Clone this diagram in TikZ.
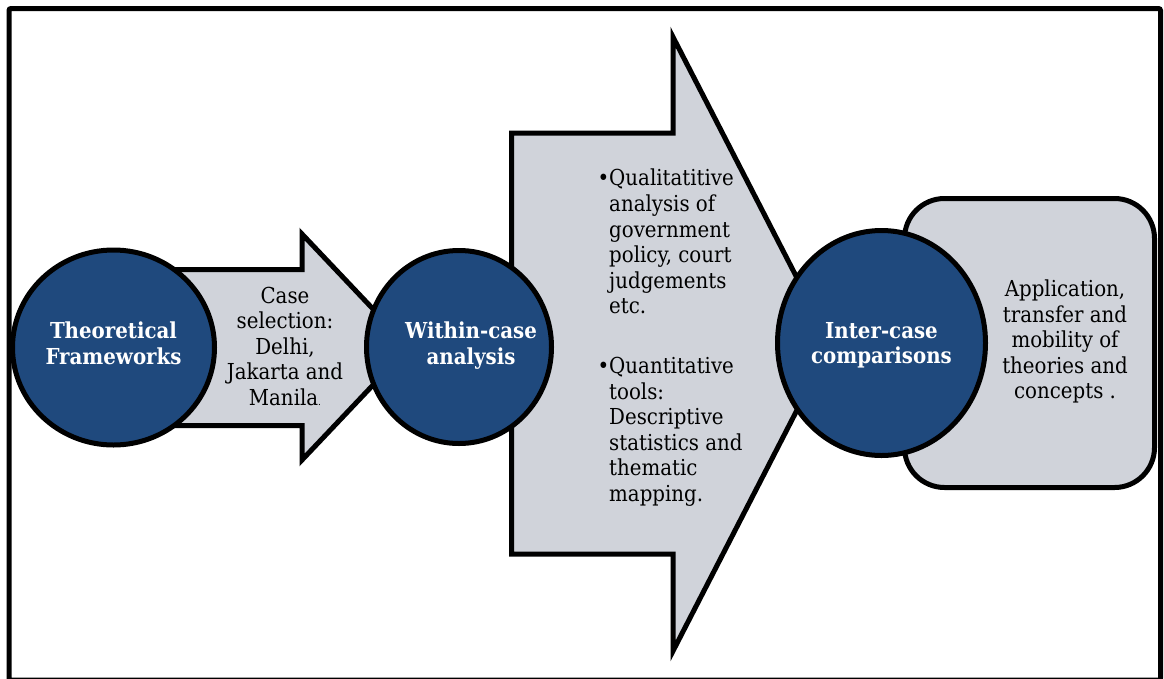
\documentclass[tikz,border=0pt]{standalone}
\usepackage{fontspec}
\setmainfont{DejaVu Serif Condensed}
\usetikzlibrary{shapes.geometric, positioning}

\definecolor{hubblue}{RGB}{31,73,125}
\definecolor{flowgrey}{RGB}{208,211,218}

\begin{document}
\begin{tikzpicture}[
    x=1pt, y=-1pt,
    outline/.style={draw=black,line width=5pt},
    hub/.style={outline,ellipse,fill=hubblue,inner sep=0pt},
    flow/.style={outline,fill=flowgrey},
    hubtext/.style={text=white,align=center,inner sep=0pt,font=\fontsize{22}{25.5}\selectfont\bfseries},
    bodytext/.style={align=center,inner sep=0pt,font=\fontsize{22}{25.5}\selectfont},
    listtext/.style={align=left,inner sep=0pt,anchor=north west,font=\fontsize{22}{25.6}\selectfont}
]
\useasboundingbox (0,0) rectangle (1164,678);

% 外框
\draw[line width=5pt,rounded corners=2pt] (9,8.5) rectangle (1160.5,680);

% 大箭头
\draw[flow] (511.5,133) -- (673,133) -- (673,37) -- (831,344) -- (673,651) -- (673,554) -- (511.5,554) -- cycle;

% 小箭头
\draw[flow] (150,269.5) -- (302,269.5) -- (302,234) -- (409,347) -- (302,460) -- (302,425.5) -- (150,425.5) -- cycle;

% 圆角框
\node[flow,rounded corners=40pt,minimum width=250pt,minimum height=289pt,inner sep=0pt] (apply) at (1029.5,343) {};

% 圆形节点
\node[hub,minimum width=202pt,minimum height=195pt] (theory) at (113.5,347.5) {};
\node[hub,minimum width=185pt,minimum height=193pt] (within) at (459,347) {};
\node[hub,minimum width=208pt,minimum height=225pt] (inter) at (881.5,343) {};

% 圆内文字
\node[hubtext] (theorylabel) at ([yshift=4pt]theory.center) {Theoretical\\Frameworks};
\node[hubtext] (withinlabel) at ([xshift=12pt,yshift=1.5pt]within.center) {Within-case\\analysis};
\node[hubtext] (interlabel) at ([yshift=-2.5pt]inter.center) {Inter-case\\comparisons};

% 箭头与框内文字
\node[bodytext] (cases) at (285,346) {Case\\selection:\\Delhi,\\Jakarta and\\Manila{\fontsize{10}{12}\selectfont.}};
\node[listtext] (qual) at (609,169) {\llap{\textbullet}Qualitatitive\\analysis of\\government\\policy, court\\judgements\\etc.};
\node[listtext] (quant) at (609,357) {\llap{\textbullet}Quantitative\\tools:\\Descriptive\\statistics and\\thematic\\mapping.};
\node[bodytext] (applytext) at (1065,341.5) {Application,\\transfer and\\mobility of\\theories and\\concepts .};
\end{tikzpicture}
\end{document}
